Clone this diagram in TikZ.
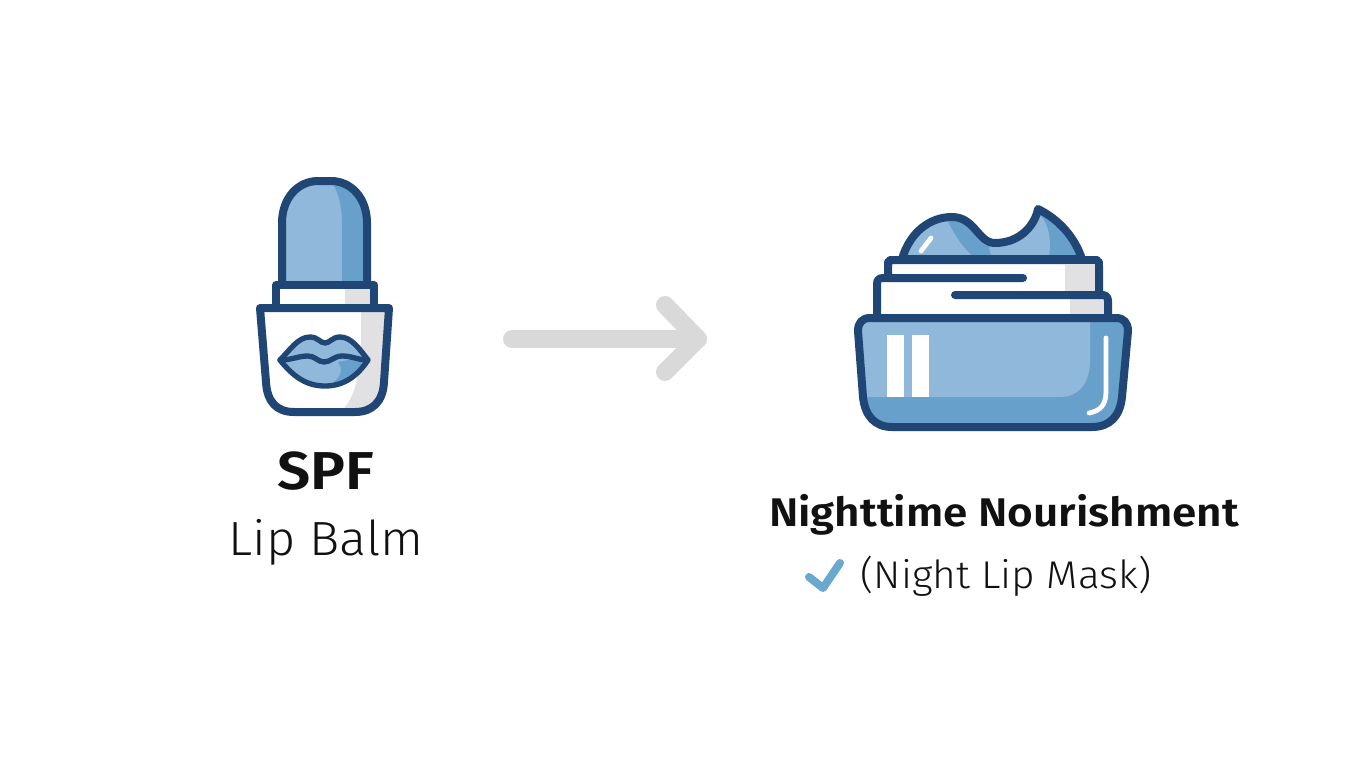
\documentclass[tikz,border=0pt]{standalone}
\usepackage{fontspec}
\setmainfont{Fira Sans}
\newfontfamily\lightfont[FakeStretch=1.05]{Fira Sans Light}
\newfontfamily\heavyfont[FakeStretch=1.10]{Fira Sans SemiBold}
\definecolor{navy}{HTML}{1F4674}
\definecolor{lightblue}{HTML}{8FB8DA}
\definecolor{midblue}{HTML}{68A0CC}
\definecolor{shadegray}{HTML}{E1E1E3}
\definecolor{arrowgray}{HTML}{D9D9D9}
\definecolor{checkblue}{HTML}{6BA8CF}
\definecolor{inkblack}{HTML}{111111}
\tikzset{
  x=0.75pt,y=-0.75pt,
  outline/.style={draw=navy,line width=6pt,line join=round,line cap=round},
  highlight/.style={draw=white,line width=3.6pt,line cap=round},
  flowarrow/.style={draw=arrowgray,line width=13.5pt,line cap=round,line join=round},
  boldlabel/.style={text=inkblack,inner sep=0pt,anchor=base},
  lightlabel/.style={text=inkblack,inner sep=0pt,anchor=base},
}
\begin{document}
\begin{tikzpicture}
\useasboundingbox (0,0) rectangle (1365,768);
\fill[white] (0,0) rectangle (1365,768);
% ---------- lip balm
\def\capshape{(282,285) -- (282,223) .. controls (282,198) and (298,181) .. (318,181) -- (331,181) .. controls (351,181) and (367,198) .. (367,223) -- (367,285) -- cycle}
\fill[lightblue] \capshape;
\begin{scope}
  \clip \capshape;
  \fill[midblue] (328,178) .. controls (338,188) and (342,205) .. (342,225) -- (342,290) -- (372,290) -- (372,178) -- cycle;
\end{scope}
\draw[outline] \capshape;
\def\collarshape{(276,308) -- (276,285) -- (374,285) -- (374,308) -- cycle}
\fill[white] \collarshape;
\fill[shadegray] (345,285) rectangle (374,308);
\draw[outline] \collarshape;
\def\bodyshape{(260,308) -- (389,308) -- (384,382) .. controls (383,402) and (372,412) .. (355,412) -- (294,412) .. controls (277,412) and (267,402) .. (266,382) -- cycle}
\fill[white] \bodyshape;
\begin{scope}
  \clip \bodyshape;
  \fill[shadegray] (361,305) -- (361,350) .. controls (358,385) and (352,405) .. (336,415) -- (395,415) -- (395,305) -- cycle;
\end{scope}
\draw[outline] \bodyshape;
\def\lipshape{(280,360) .. controls (290,350) and (298,337) .. (310,337) .. controls (318,337) and (320,343) .. (325,343) .. controls (330,343) and (332,337) .. (340,337) .. controls (352,337) and (360,350) .. (368,360) .. controls (358,375) and (345,386) .. (325,386) .. controls (305,386) and (292,375) .. (280,360) -- cycle}
\fill[lightblue] \lipshape;
\begin{scope}
  \clip \lipshape;
  \fill[midblue] (338,362) .. controls (345,372) and (340,382) .. (318,390) -- (372,390) -- (372,355) -- cycle;
\end{scope}
\draw[outline,line width=4pt] \lipshape;
\draw[outline,line width=4pt] (280,360) .. controls (292,360) and (298,356) .. (308,356) .. controls (315,356) and (318,362) .. (324,362) .. controls (331,362) and (334,356) .. (342,356) .. controls (352,356) and (358,360) .. (368,360);
% ---------- arrow
\coordinate (arrowstart) at (512,339);
\coordinate (arrowtip) at (698,339);
\coordinate (headtop) at (665,305);
\coordinate (headbot) at (665,372);
\draw[flowarrow] (arrowstart) -- (arrowtip);
\draw[flowarrow] (headtop) -- (arrowtip) -- (headbot);
% ---------- jar
\def\creamshape{(902,259) .. controls (910,232) and (930,217) .. (952,217) .. controls (975,217) and (978,243) .. (995,243) .. controls (1020,243) and (1035,225) .. (1038,209) .. controls (1060,220) and (1075,238) .. (1082,259) -- cycle}
\fill[midblue] \creamshape;
\begin{scope}
  \clip \creamshape;
  \fill[lightblue] (995,262) .. controls (990,252) and (985,246) .. (995,243) .. controls (1020,240) and (1035,225) .. (1040,215) .. controls (1050,225) and (1052,245) .. (1048,262) -- cycle;
  \fill[lightblue] (900,262) -- (900,215) -- (943,215) .. controls (952,225) and (956,245) .. (980,262) -- cycle;
\end{scope}
\draw[outline] \creamshape;
\draw[highlight] (921,251) -- (931,238);
\def\lidtop{(888,280) -- (888,266) .. controls (888,262) and (890,260) .. (894,260) -- (1093,260) .. controls (1097,260) and (1099,262) .. (1099,266) -- (1099,297) -- (888,297) -- cycle}
\fill[white] \lidtop;
\fill[shadegray] (1065,260) rectangle (1099,297);
\draw[outline] \lidtop;
\fill[white] (877,320) -- (877,278) -- (1023,278) -- (1023,295) -- (1108,295) -- (1108,320) -- cycle;
\fill[shadegray] (1070,295) rectangle (1108,320);
\fill[white] (950,282) rectangle (1070,295);
\fill[white] (1023,275) rectangle (1065,292);
\fill[shadegray] (1065,264) rectangle (1095,294);
\draw[outline] (877,318) -- (877,284) .. controls (877,280) and (879,278) .. (883,278) -- (1023,278);
\draw[outline] (955,295) -- (1102,295) .. controls (1106,295) and (1108,297) .. (1108,301) -- (1108,318);
\draw[outline] (1099,262) -- (1099,295);
\draw[outline] (888,262) -- (888,278);
\draw[outline] (890,260) -- (1097,260);
\def\baseshape{(870,318) -- (1116,318) .. controls (1124,318) and (1128,323) .. (1128,331) -- (1122,397) .. controls (1120,416) and (1110,427) .. (1092,427) -- (892,427) .. controls (875,427) and (865,416) .. (863,397) -- (858,331) .. controls (858,323) and (862,318) .. (870,318) -- cycle}
\fill[midblue] \baseshape;
\begin{scope}
  \clip \baseshape;
  \fill[lightblue] (850,315) -- (1090,315) -- (1090,365) .. controls (1088,385) and (1078,397) .. (1060,397) -- (850,397) -- cycle;
\end{scope}
\draw[outline] \baseshape;
\fill[white] (887,335) rectangle (904,397);
\fill[white] (912,335) rectangle (929,397);
\draw[highlight] (1106,338) -- (1106,392) .. controls (1106,405) and (1100,411) .. (1089,413);
% ---------- labels
\node[boldlabel,font=\fontsize{40pt}{44pt}\heavyfont] (spf) at (326,489) {SPF};
\node[lightlabel,font=\fontsize{36pt}{40pt}\lightfont] (balm) at (326,555) {Lip Balm};
\node[boldlabel,font=\fontsize{30pt}{34pt}\heavyfont] (night) at (1004,526) {Nighttime Nourishment};
\node[lightlabel,font=\fontsize{29pt}{34pt}\lightfont] (mask) at (1006,588) {(Night Lip Mask)};
\coordinate (checka) at (809,577);
\coordinate (checkb) at (823,588);
\coordinate (checkc) at (840,563);
\draw[draw=checkblue,line width=6pt,line cap=round,line join=round] (checka) -- (checkb) -- (checkc);
\end{tikzpicture}
\end{document}
